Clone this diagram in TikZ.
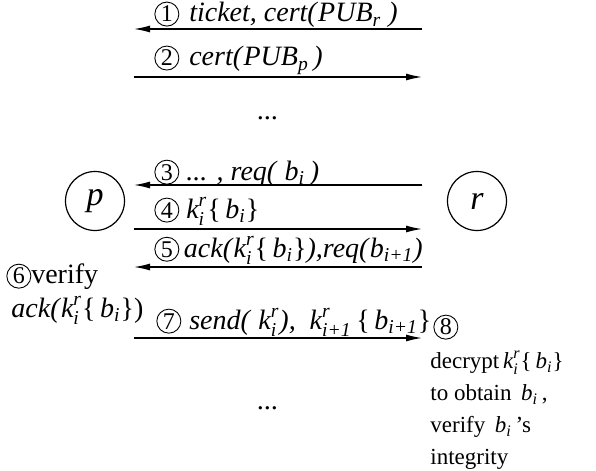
\documentclass[tikz,border=0pt]{standalone}
\usepackage{amsmath}
\usepackage{fontspec}
\setmainfont{Liberation Serif}
\usetikzlibrary{arrows.meta}

% circled step numbers
\newcommand{\stepnum}[1]{\tikz[baseline=(sn.base)]\node[circle,draw,line width=0.45pt,minimum size=12pt,inner sep=0pt] (sn) {\fontsize{12}{12}\selectfont #1};}
\newcommand{\kr}[1]{$\textit{k}^{\textit{r}}_{\textit{#1}}$}
\newcommand{\bsub}[1]{$\textit{b}_{\textit{#1}}$}

\begin{document}
\begin{tikzpicture}[x=0.5pt,y=-0.5pt,
	font=\fontsize{14}{16}\selectfont,
	msg/.style={line width=0.65pt,-{Latex[length=8pt,width=3.5pt]}},
	party/.style={circle,draw,line width=0.6pt,minimum size=29.5pt,inner sep=0pt,
		font=\fontsize{17}{17}\selectfont\itshape},
	lbl/.style={anchor=base west,inner sep=0pt},
	note/.style={anchor=north west,inner sep=0pt,align=left,font=\fontsize{11.5}{16}\selectfont}]
	\useasboundingbox (0,0) rectangle (596,471);
	
	% parties
	\node[party] (p) at (95,201) {p};
	\node[party] (r) at (477,201) {r};
	
	% ends of the messages
	\foreach \n/\y in {1/29,2/77,3/185,4/229,5/267,7/338}{
		\coordinate (a\n) at (134,\y);
		\coordinate (b\n) at (422,\y);
	}
	
	\draw[msg] (b1) -- (a1);
	\draw[msg] (a2) -- (b2);
	\draw[msg] (b3) -- (a3);
	\draw[msg] (a4) -- (b4);
	\draw[msg] (b5) -- (a5);
	\draw[msg] (a7) -- (b7);
	
	% message labels
	\node[lbl] (t1) at (154,22) {\stepnum{1}\hspace{5pt}\textit{ticket, cert(}$\textit{PUB}_{\textit{r}}$\textit{\ )}};
	\node[lbl] (t2) at (154,66) {\stepnum{2}\hspace{5pt}\textit{cert(}$\textit{PUB}_{\textit{p}}$\textit{\,)}};
	\node (d1) at (268,118) {\textit{...}};
	\node[lbl] (t3) at (154,180) {\stepnum{3} \textit{... , req(} \bsub{i}\textit{\,)}};
	\node[lbl] (t4) at (154,218) {\stepnum{4} \kr{i}\{\,\bsub{i}\}};
	\node[lbl] (t5) at (154,257) {\stepnum{5}\,\textit{ack(}\kr{i}\{\,\bsub{i}\}\textit{),req(}\bsub{i+1}\textit{)}};
	\node[lbl] (t7) at (156,329) {\stepnum{7}\hspace{4pt}\textit{send(} \kr{i}\textit{),}\ \ \kr{i+1}\,\{\,\bsub{i+1}\}};
	
	% local steps
	\node[lbl] (s6) at (6,284) {\stepnum{6}verify};
	\node[lbl] (s6b) at (11,317) {\textit{ack(}\kr{i}\{\,\bsub{i}\})};
	\node[lbl] (s8) at (433,335) {\stepnum{8}};
	\node[note] (s8b) at (430,351) {decrypt\,\kr{i}\{\,\bsub{i}\}\\to obtain \,\bsub{i}\,,\\verify \,\bsub{i}\,’s\\integrity};
	\node (d2) at (268,408) {\textit{...}};
\end{tikzpicture}
\end{document}
